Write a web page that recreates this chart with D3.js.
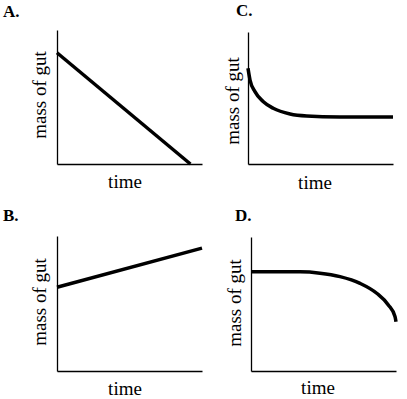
<!DOCTYPE html>
<html>
<head>
    <meta charset="utf-8">
    <script src="https://d3js.org/d3.v7.min.js"></script>
    <style>
        body { margin: 0; background: #fff; }
        text { font-family: "Liberation Serif", "Times New Roman", serif; fill: #000; }
    </style>
</head>
<body>
    <div id="my_dataviz"></div>
    <script>
        // values, time and mass on a 0..10 scale
        var panelNames = ["A.", "B.", "C.", "D."];
        var xLabel = "time";
        var yLabel = "mass of gut";

        var seriesA = [[0, 8.3], [9.2, 0]];
        var seriesB = [[0, 6.2], [10, 9.1]];
        var seriesC = [[0, 7.25], [0.14, 6.36], [0.48, 5.48], [1.06, 4.72], [1.74, 4.22],
                       [2.9, 3.79], [4.05, 3.64], [6.34, 3.57], [10, 3.56]];
        var seriesD = [[0, 7.41], [3.38, 7.4], [4.76, 7.3], [6.14, 7.04], [7.52, 6.54],
                       [8.67, 5.8], [9.47, 4.93], [9.93, 4.06], [10, 3.68]];

        // layout of the four small plots
        var layout = [
            { data: seriesA, ox: 57, oy: 164, w: 145, h: 134, lx: 3, ly: 17, yl: [46, 95], xl: [125, 188], curve: d3.curveLinear },
            { data: seriesB, ox: 57, oy: 371, w: 145, h: 135, lx: 3, ly: 221, yl: [46, 302], xl: [125, 395], curve: d3.curveLinear },
            { data: seriesC, ox: 248, oy: 164, w: 145, h: 132, lx: 236, ly: 16, yl: [239, 101], xl: [315, 189], curve: d3.curveMonotoneX },
            { data: seriesD, ox: 251, oy: 371, w: 145, h: 134, lx: 235, ly: 221, yl: [241, 303], xl: [318, 394], curve: d3.curveMonotoneX }
        ];

        var svg = d3.select("#my_dataviz")
            .append("svg")
            .attr("width", 407)
            .attr("height", 399);

        layout.forEach(function (p, i) {
            var x = d3.scaleLinear().domain([0, 10]).range([0, p.w]);
            var y = d3.scaleLinear().domain([0, 10]).range([0, -p.h]);

            var g = svg.append("g")
                .attr("transform", "translate(" + p.ox + "," + p.oy + ")");

            // axes without ticks
            g.append("g")
                .call(d3.axisBottom(x).tickValues([]).tickSizeOuter(0))
                .select(".domain").attr("stroke-width", 1.3);
            g.append("g")
                .call(d3.axisLeft(y).tickValues([]).tickSizeOuter(0))
                .select(".domain").attr("stroke-width", 1.3);

            // the line
            g.append("path")
                .datum(p.data)
                .attr("fill", "none")
                .attr("stroke", "#000")
                .attr("stroke-width", 3.5)
                .attr("d", d3.line()
                    .x(function (d) { return x(d[0]) })
                    .y(function (d) { return y(d[1]) })
                    .curve(p.curve)
                );

            // panel letter
            svg.append("text")
                .attr("x", p.lx)
                .attr("y", p.ly)
                .attr("font-size", 17)
                .attr("font-weight", "bold")
                .text(panelNames[i]);

            // axis labels
            svg.append("text")
                .attr("text-anchor", "middle")
                .attr("font-size", 19)
                .attr("transform", "translate(" + p.yl[0] + "," + p.yl[1] + ") rotate(-90)")
                .text(yLabel);
            svg.append("text")
                .attr("text-anchor", "middle")
                .attr("font-size", 19)
                .attr("x", p.xl[0])
                .attr("y", p.xl[1])
                .text(xLabel);
        });
    </script>
</body>
</html>
